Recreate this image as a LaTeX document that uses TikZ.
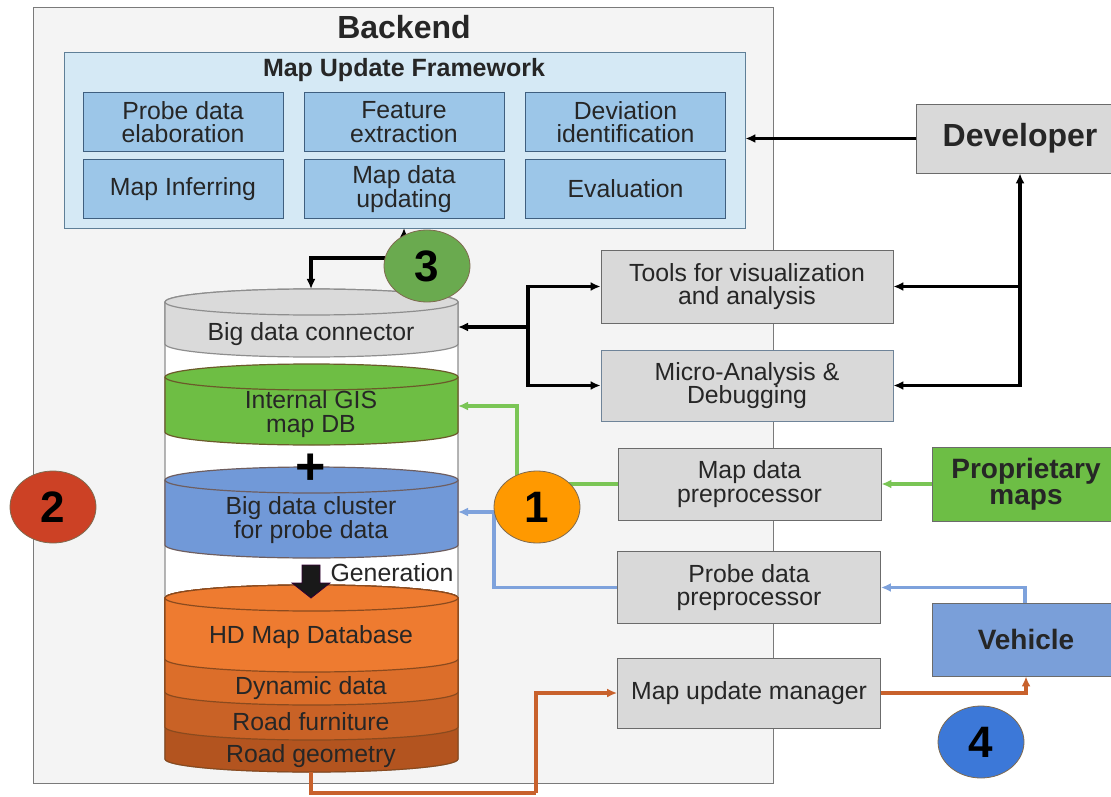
\documentclass[tikz,border=0pt]{standalone}
\usepackage{fontspec}
\setmainfont{Liberation Sans}
\usetikzlibrary{arrows.meta,shapes.geometric}

\definecolor{backgray}{HTML}{F4F4F4}
\definecolor{backedge}{HTML}{7A7A7A}
\definecolor{framebg}{HTML}{D5E9F5}
\definecolor{frameedge}{HTML}{5F7F97}
\definecolor{modblue}{HTML}{9CC6E8}
\definecolor{modedge}{HTML}{3F5F7F}
\definecolor{boxgray}{HTML}{D9D9D9}
\definecolor{boxedge}{HTML}{6B6B6B}
\definecolor{microedge}{HTML}{6F8499}
\definecolor{textgray}{HTML}{262626}
\definecolor{propgreen}{HTML}{6DBE45}
\definecolor{vehblue}{HTML}{7A9FD9}
\definecolor{linegreen}{HTML}{7AC555}
\definecolor{lineblue}{HTML}{7EA2DC}
\definecolor{lineorange}{HTML}{C8612C}
\definecolor{cylgray}{HTML}{DADADA}
\definecolor{cyledge}{HTML}{8E8E8E}
\definecolor{gisgreen}{HTML}{6EBE44}
\definecolor{gisedge}{HTML}{6B5A2A}
\definecolor{clusterblue}{HTML}{7199D8}
\definecolor{clusteredge}{HTML}{6E5E60}
\definecolor{hdorange}{HTML}{EE7B30}
\definecolor{dynorange}{HTML}{DC6E2A}
\definecolor{furnorange}{HTML}{C96226}
\definecolor{geomorange}{HTML}{B3541F}
\definecolor{hdedge}{HTML}{8A4A1E}
\definecolor{badgeedge}{HTML}{7F6A4F}
\definecolor{badgegreen}{HTML}{6AAA4F}
\definecolor{badgeorange}{HTML}{FF9900}
\definecolor{badgered}{HTML}{CC4125}
\definecolor{badgeblue}{HTML}{3C78D8}

\newcommand{\lbl}{\fontsize{12.4}{11.7}\selectfont}
\tikzstyle{module}=[draw=modedge, fill=modblue, thin, minimum width=100pt,
                    minimum height=29.5pt, inner sep=0pt, align=center,
                    text=textgray, font=\lbl]
\tikzstyle{toolbox}=[draw=boxedge, fill=boxgray, thin, minimum width=131.5pt,
                     minimum height=36pt, inner sep=0pt, align=center,
                     text=textgray, font=\lbl]
\tikzstyle{actor}=[draw=boxedge, thin, minimum height=36.5pt, inner sep=0pt,
                   align=center, text=textgray,
                   font=\fontsize{14}{13}\selectfont\bfseries]
\tikzstyle{badge}=[draw=badgeedge, ellipse, thin, minimum width=43pt,
                   minimum height=36pt, inner sep=0pt,
                   font=\fontsize{22}{22}\selectfont\bfseries]
\tikzstyle{blk}=[line width=1.8pt, black]
\tikzstyle{grn}=[line width=1.6pt, linegreen]
\tikzstyle{blu}=[line width=1.6pt, lineblue]
\tikzstyle{org}=[line width=1.6pt, lineorange]

% one slice of the database cylinder: top y, bottom y, fill, edge
\newcommand{\dblayer}[4]{%
  \filldraw[fill=#3, draw=#4, line width=0.6pt]
    (165,#1) -- (165,#2)
    arc[start angle=180, end angle=360, x radius=73.25pt, y radius=6.5pt]
    -- (458,#1)
    arc[start angle=0, end angle=180, x radius=73.25pt, y radius=6.5pt] -- cycle;
  \draw[#4, line width=0.6pt] (165,#1)
    arc[start angle=180, end angle=360, x radius=73.25pt, y radius=6.5pt];
}

\begin{document}
\begin{tikzpicture}[x=0.5pt, y=-0.5pt, >={Latex[length=5pt,width=4.5pt]}]
  \useasboundingbox (0,0) rectangle (1111,796);
  % Backend and the framework
  \filldraw[fill=backgray, draw=backedge, thin] (33,7) rectangle (773,783);
  \node[font=\fontsize{16}{16}\selectfont\bfseries, text=textgray] (backend) at (404,27) {Backend};
  \node[draw=frameedge, fill=framebg, thin, minimum width=340.5pt,
        minimum height=88pt] (muf) at (404.5,140) {};
  \node[font=\fontsize{12.5}{12.5}\selectfont\bfseries, text=textgray] (muftitle) at (404,70) {Map Update Framework};
  \foreach \place/\name/\txt in {{(183,122)/pde/{Probe data\\elaboration}},
           {(404,122)/fex/{Feature\\extraction}}, {(625.5,122)/dev/{Deviation\\identification}},
           {(183,189)/inf/{Map Inferring}}, {(404,189)/upd/{Map data\\updating}},
           {(625.5,189)/eva/{Evaluation}}}
    \node[module] (\name) at \place {\txt};
  %
  % Database cylinder
  \dblayer{302}{759}{white}{cyledge}
  \dblayer{302}{344}{cylgray}{cyledge}
  \dblayer{377}{432}{gisgreen}{gisedge}
  \dblayer{480}{545}{clusterblue}{clusteredge}
  \dblayer{598}{759}{geomorange}{hdedge}
  \dblayer{598}{727}{furnorange}{hdedge}
  \dblayer{598}{692}{dynorange}{hdedge}
  \dblayer{598}{659}{hdorange}{hdedge}
  \foreach \place/\name/\txt in {{(311,334)/conn/{Big data connector}},
           {(311,414)/gis/{Internal GIS\\map DB}},
           {(311,520)/cluster/{Big data cluster\\for probe data}},
           {(311,637)/hdmap/{HD Map Database}}, {(311,688)/dyn/{Dynamic data}},
           {(311,722)/furn/{Road furniture}}, {(311,756)/geom/{Road geometry}}}
    \node[font=\lbl, align=center, text=textgray] (\name) at \place {\txt};
  \node[font=\fontsize{26}{26}\selectfont\bfseries] (plus) at (311,469) {+};
  \filldraw[fill=black!90, draw=black!60!violet, thin]
    (302,565) -- (320,565) -- (320,583) -- (330,583) -- (311,598)
    -- (292,583) -- (302,583) -- cycle;
  \node[font=\lbl, text=textgray] (gen) at (392,573) {Generation};
  %
  % Tools and preprocessors
  \node[toolbox, minimum width=146pt, minimum height=36.5pt] (tools) at (747,286.5) {Tools for visualization\\and analysis};
  \node[toolbox, draw=microedge, minimum width=146pt, minimum height=35.5pt] (micro) at (747,385.5) {Micro-Analysis \&\\Debugging};
  \node[toolbox] (mdp) at (749.5,484) {Map data\\preprocessor};
  \node[toolbox] (pdp) at (749,587.5) {Probe data\\preprocessor};
  \node[toolbox, minimum height=35pt] (mum) at (749,693) {Map update manager};
  %
  % Outside actors
  \node[actor, fill=boxgray, minimum width=104pt, minimum height=34.5pt,
        font=\fontsize{16}{16}\selectfont\bfseries] (devel) at (1020,138.5) {Developer};
  \node[actor, fill=propgreen, minimum width=94pt, minimum height=37pt] (prop) at (1026,484) {Proprietary\\maps};
  \node[actor, fill=vehblue, minimum width=94pt] (veh) at (1026,639.5) {Vehicle};
  %
  % Black links
  \coordinate (split) at (528,327);
  \coordinate (connin) at (458,327);
  \coordinate (conntop) at (311,289);
  \coordinate (bend) at (404,258);
  \coordinate (mufport) at (404,228);
  \draw[blk,->] (devel.west) -- (devel.west -| muf.east);
  \draw[blk,<->] (micro.east) -| (devel.south);
  \draw[blk,->] (tools.east -| devel.south) -- (tools.east);
  \draw[blk,->] (split) -- (connin);
  \draw[blk,->] (split) |- (tools.west);
  \draw[blk,->] (split) |- (micro.west);
  \draw[blk,<->] (conntop) |- (bend) -- (mufport);
  %
  % Coloured links
  \coordinate (gturn) at (517,406);
  \coordinate (gisin) at (458,406);
  \coordinate (bturn) at (494,512);
  \coordinate (clusterin) at (458,512);
  \coordinate (geomout) at (311,772);
  \coordinate (oturn) at (536,793);
  \draw[grn,->] (prop.west) -- (mdp.east);
  \draw[grn,->] (mdp.west) -| (gturn) -- (gisin);
  \draw[blu,->] (veh.north -| 1025,0) |- (pdp.east);
  \draw[blu,->] (pdp.west) -| (bturn) -- (clusterin);
  \draw[org] (geomout) |- (oturn);
  \draw[org,->] (oturn) |- (mum.west);
  \draw[org,->] (mum.east) -| (veh.south);
  %
  % Numbered badges
  \foreach \place/\name/\col/\num in {{(537,507)/one/badgeorange/1},
           {(53,507)/two/badgered/2}, {(427,266)/three/badgegreen/3},
           {(981,742)/four/badgeblue/4}}
    \node[badge, fill=\col] (\name) at \place {\num};
\end{tikzpicture}
\end{document}
